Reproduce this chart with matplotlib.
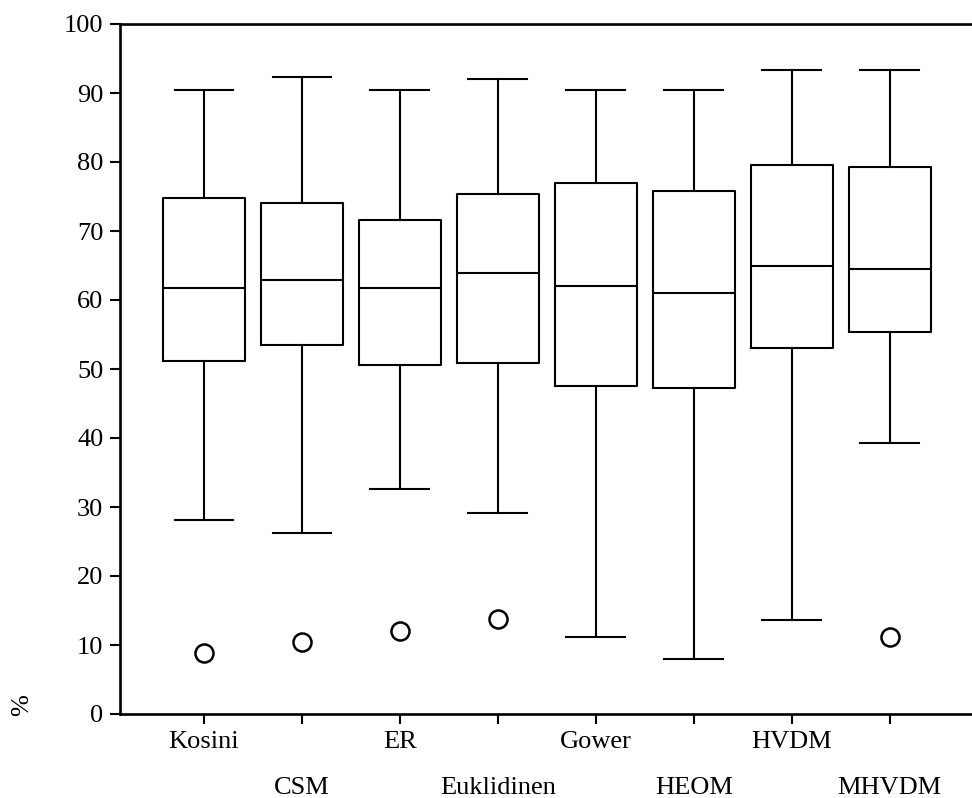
import matplotlib
matplotlib.use("Agg")
import matplotlib.pyplot as plt

categories = ["Kosini", "CSM", "ER", "Euklidinen", "Gower", "HEOM", "HVDM", "MHVDM"]
whislo = [28.1, 26.2, 32.6, 29.1, 11.1, 7.9, 13.6, 39.3]
q1 = [51.2, 53.5, 50.6, 50.9, 47.6, 47.3, 53.1, 55.3]
med = [61.7, 62.9, 61.7, 63.9, 62.0, 61.0, 64.9, 64.5]
q3 = [74.8, 74.1, 71.6, 75.4, 77.0, 75.8, 79.6, 79.3]
whishi = [90.4, 92.3, 90.4, 92.0, 90.4, 90.4, 93.3, 93.3]
fliers = [[8.8], [10.5], [12.0], [13.7], [], [], [], [11.1]]
yticks = list(range(0, 101, 10))

plt.rcParams['font.family'] = ['Liberation Serif', 'TeX Gyre Termes', 'DejaVu Serif']

fig = plt.figure(figsize=(9.72, 7.98), dpi=100)
ax = fig.add_axes([120/972, 1 - 714/798, 1 - 120/972, 690/798])

stats = []
for i, c in enumerate(categories):
    stats.append(dict(label=c, whislo=whislo[i], q1=q1[i], med=med[i],
                      q3=q3[i], whishi=whishi[i], fliers=fliers[i]))

lw = 1.5
ax.bxp(stats, positions=range(1, 9), widths=0.84, showfliers=True,
       boxprops=dict(color='black', linewidth=lw),
       whiskerprops=dict(color='black', linewidth=lw),
       capprops=dict(color='black', linewidth=lw),
       medianprops=dict(color='black', linewidth=lw),
       flierprops=dict(marker='o', markersize=13, markerfacecolor='white',
                       markeredgecolor='black', markeredgewidth=1.8),
       capwidths=0.6)

ax.set_xlim(0.143, 8.84)
ax.set_ylim(0, 100)
ax.set_yticks(yticks)
ax.set_yticklabels([str(t) for t in yticks])
ax.spines['right'].set_visible(False)
for s in ['left', 'bottom', 'top']:
    ax.spines[s].set_linewidth(1.9)

fs = 19
ax.tick_params(axis='both', direction='out', length=7, width=1.5,
               labelsize=fs, colors='black')
ax.tick_params(axis='y', pad=5)
ax.set_xticks(range(1, 9))
ax.set_xticklabels(categories)
for i, t in enumerate(ax.xaxis.get_major_ticks()):
    t.set_pad(5 if i % 2 == 0 else 38)

fig.text(22/972, 1 - 705/798, '%', rotation=90, fontsize=fs,
         ha='center', va='center')

fig.savefig("out.png", dpi=100)
